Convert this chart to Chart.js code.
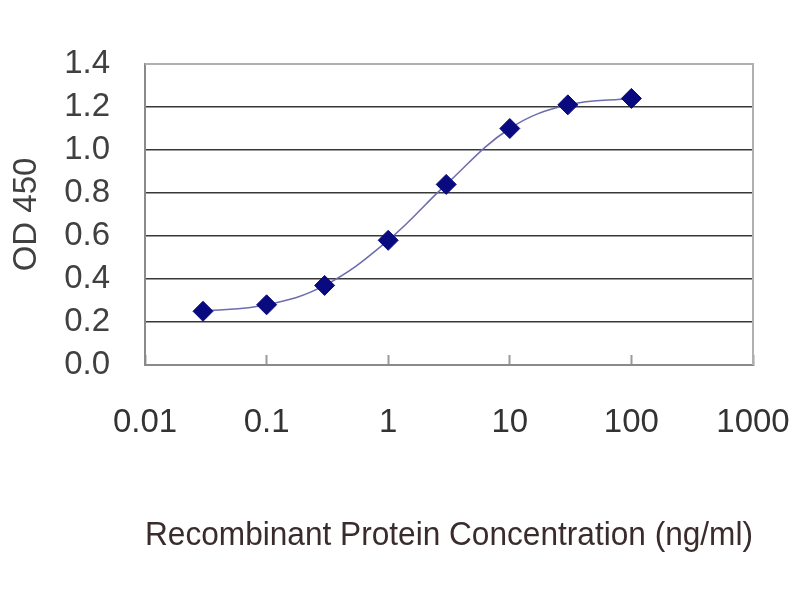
<!DOCTYPE html>
<html>
<head>
<meta charset="utf-8">
<style>
  html, body { margin: 0; padding: 0; background: #ffffff; }
  #c { display: block; }
</style>
<script src="https://cdn.jsdelivr.net/npm/chart.js@4/dist/chart.umd.min.js"></script>
</head>
<body>
<canvas id="c" width="800" height="600"></canvas>
<script>
// ---- data ----
const concentrations = [0.03, 0.1, 0.3, 1, 3, 10, 30, 100];
const od450 = [0.25, 0.28, 0.37, 0.58, 0.84, 1.10, 1.21, 1.24];
const xTickValues = [0.01, 0.1, 1, 10, 100, 1000];
const xTickLabels = ['0.01', '0.1', '1', '10', '100', '1000'];
const yTickValues = [0, 0.2, 0.4, 0.6, 0.8, 1.0, 1.2, 1.4];
const yTickLabels = ['0.0', '0.2', '0.4', '0.6', '0.8', '1.0', '1.2', '1.4'];
const xTitle = 'Recombinant Protein Concentration (ng/ml)';
const yTitle = 'OD 450';

const points = concentrations.map((c, i) => ({ x: c, y: od450[i] }));
const FONT = "'Liberation Sans', Arial, sans-serif";

const plotBorder = {
  id: 'plotBorder',
  beforeDatasetsDraw(chart) {
    const { ctx, chartArea: a } = chart;
    ctx.save();
    ctx.strokeStyle = '#b0b0b0';
    ctx.lineWidth = 2;
    ctx.beginPath();
    ctx.moveTo(a.left, a.top);
    ctx.lineTo(a.right, a.top);
    ctx.lineTo(a.right, a.bottom);
    ctx.stroke();
    ctx.restore();
  }
};

new Chart(document.getElementById('c'), {
  type: 'line',
  data: {
    datasets: [{
      data: points,
      borderColor: '#6c6cae',
      borderWidth: 1.5,
      tension: 0.4,
      fill: false,
      pointStyle: 'rectRot',
      pointRadius: 10,
      pointHoverRadius: 10,
      pointBackgroundColor: '#0a0a80',
      pointBorderColor: '#0a0a80',
      pointBorderWidth: 1
    }]
  },
  options: {
    responsive: false,
    animation: false,
    devicePixelRatio: 1,
    layout: { padding: { left: 0, right: 47, top: 64, bottom: 0 } },
    plugins: {
      legend: { display: false },
      tooltip: { enabled: false }
    },
    scales: {
      x: {
        type: 'logarithmic',
        position: 'bottom',
        min: xTickValues[0],
        max: xTickValues[xTickValues.length - 1],
        afterBuildTicks(scale) {
          scale.ticks = xTickValues.map(v => ({ value: v }));
        },
        afterFit(scale) {
          scale.height = 235;
          scale.paddingLeft = 0;
          scale.paddingRight = 0;
        },
        grid: {
          drawOnChartArea: false,
          drawTicks: true,
          tickLength: -10,
          tickColor: '#9a9a9a',
          tickWidth: 2
        },
        border: { display: true, color: '#8a8a8a', width: 2 },
        ticks: {
          autoSkip: false,
          maxRotation: 0,
          minRotation: 0,
          padding: 48,
          color: '#333333',
          font: { family: FONT, size: 33 },
          callback: (v, i) => xTickLabels[i]
        },
        title: {
          display: true,
          text: xTitle,
          color: '#3a2c2c',
          font: { family: FONT, size: 33 },
          padding: { top: 0, bottom: 44 }
        }
      },
      y: {
        position: 'left',
        min: yTickValues[0],
        max: yTickValues[yTickValues.length - 1],
        afterBuildTicks(scale) {
          scale.ticks = yTickValues.map(v => ({ value: v }));
        },
        afterFit(scale) {
          scale.width = 145;
          scale.paddingTop = 0;
          scale.paddingBottom = 0;
        },
        grid: {
          drawTicks: false,
          lineWidth: 1.6,
          color: (ctx) => {
            const v = ctx.tick ? ctx.tick.value : null;
            if (v === 0) return 'rgba(0,0,0,0)';
            if (v === 1.4) return '#a0a0a0';
            return '#383838';
          }
        },
        border: { display: true, color: '#8a8a8a', width: 2 },
        ticks: {
          padding: 35,
          color: '#404040',
          font: { family: FONT, size: 33 },
          callback: (v, i) => yTickLabels[i]
        },
        title: {
          display: true,
          text: yTitle,
          color: '#404040',
          font: { family: FONT, size: 33 },
          padding: { top: 7, bottom: 0 }
        }
      }
    }
  },
  plugins: [plotBorder]
});
</script>
</body>
</html>
